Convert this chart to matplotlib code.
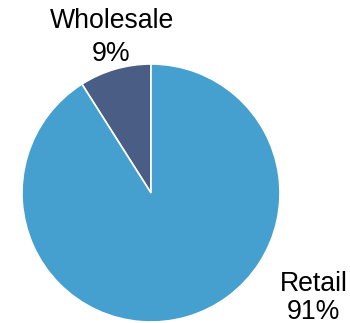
import matplotlib
matplotlib.use("Agg")
import matplotlib.pyplot as plt

categories = ["Wholesale", "Retail"]
values = [9, 91]
colors = ["#4A5E85", "#45A0CF"]

plt.rcParams['font.family'] = ['Liberation Sans', 'DejaVu Sans']

fig = plt.figure(figsize=(3.5, 3.23), dpi=100)
ax = fig.add_axes([0, 0, 1, 1])
ax.pie(values, colors=colors, startangle=90, counterclock=True,
       wedgeprops=dict(edgecolor="white", linewidth=1.2), radius=1)
ax.set_xlim(-151/129, (350-151)/129)
ax.set_ylim(-(323-193)/129, 193/129)
ax.set_aspect('equal')
ax.axis('off')

fs = 19.2
# Wholesale label (two lines)
ax.text(-0.306, 1.279, categories[0], ha='center', va='baseline', fontsize=fs)
ax.text(-0.306, 1.023, f"{values[0]}%", ha='center', va='baseline', fontsize=fs)
# Retail label
ax.text(1.26, -0.76, categories[1], ha='center', va='baseline', fontsize=fs)
ax.text(1.26, -0.98, f"{values[1]}%", ha='center', va='baseline', fontsize=fs)

fig.savefig("out.png", dpi=100)
